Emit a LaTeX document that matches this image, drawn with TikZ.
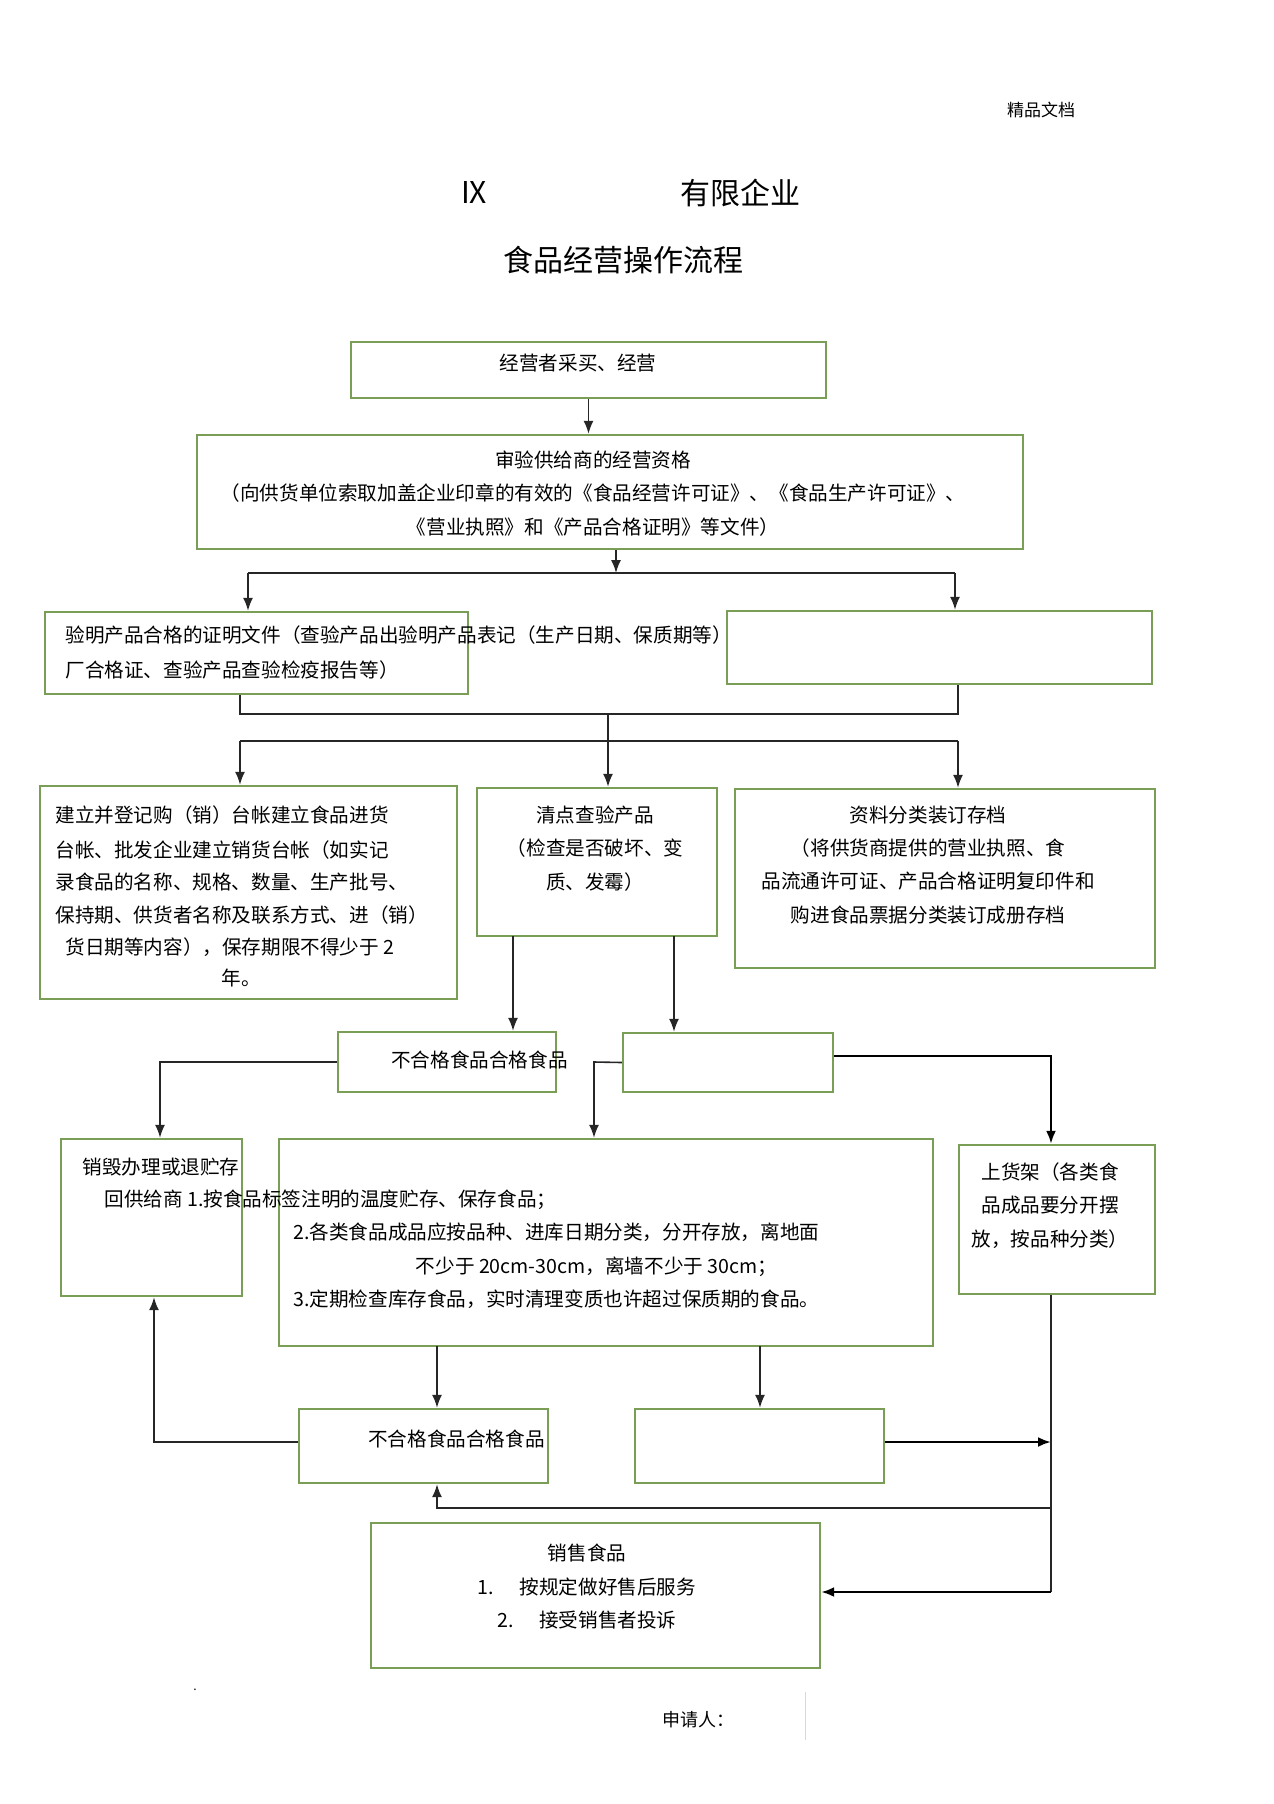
\documentclass[tikz,border=0pt]{standalone}
\usepackage{fontspec}
\setmainfont{Noto Sans CJK SC}
\usetikzlibrary{arrows.meta}
\definecolor{boxgreen}{RGB}{122,158,86}

\begin{document}
\begin{tikzpicture}[x=0.5pt,y=-0.5pt]
\tikzstyle{mybox}=[draw=boxgreen,line width=1.2pt,inner sep=0pt]
\tikzstyle{mytext}=[inner sep=0pt,font=\fontsize{9.8}{16.6}\selectfont]
\tikzstyle{mytitle}=[inner sep=0pt,font=\fontsize{15}{18}\selectfont]
\tikzstyle{myline}=[line width=0.8pt,black!85]
\tikzstyle{myarrow}=[myline,-{Latex[length=6.5pt,width=5pt]}]

\useasboundingbox (0,0) rectangle (1274,1804);

\node[inner sep=0pt,font=\fontsize{8.5}{10}\selectfont] (mark) at (1041,110) {精品文档};
\node[mytitle] (ix) at (474,193) {IX};
\node[mytitle] (firm) at (740,193) {有限企业};
\node[mytitle] (title) at (623,260) {食品经营操作流程};

\node[mybox,minimum width=237.5pt,minimum height=28pt] (b1) at (588.5,370) {};
\node[mybox,minimum width=413pt,minimum height=57pt] (b2) at (610,492) {};
\node[mybox,minimum width=211.5pt,minimum height=41pt] (b3) at (256.5,653) {};
\node[mybox,minimum width=212.5pt,minimum height=36.5pt] (b4) at (939.5,647.5) {};
\node[mybox,minimum width=208.5pt,minimum height=106.5pt] (b5) at (248.5,892.5) {};
\node[mybox,minimum width=120pt,minimum height=74pt] (b6) at (597,862) {};
\node[mybox,minimum width=210pt,minimum height=89.5pt] (b7) at (945,878.5) {};
\node[mybox,minimum width=109pt,minimum height=30pt] (b8) at (447,1062) {};
\node[mybox,minimum width=105pt,minimum height=29.5pt] (b9) at (728,1062.5) {};
\node[mybox,minimum width=90.5pt,minimum height=78.5pt] (b10) at (151.5,1217.5) {};
\node[mybox,minimum width=327pt,minimum height=103.5pt] (b11) at (606,1242.5) {};
\node[mybox,minimum width=98pt,minimum height=74.5pt] (b12) at (1057,1219.5) {};
\node[mybox,minimum width=124.5pt,minimum height=37pt] (b13) at (423.5,1446) {};
\node[mybox,minimum width=124.5pt,minimum height=37pt] (b14) at (759.5,1446) {};
\node[mybox,minimum width=224.5pt,minimum height=72.5pt] (b15) at (595.5,1595.5) {};

\node[mytext] (t1) at (578,363) {经营者采买、经营};
\node[mytext,align=center] (t2) at (593,493.5) {审验供给商的经营资格\\（向供货单位索取加盖企业印章的有效的《食品经营许可证》、《食品生产许可证》、\\《营业执照》和《产品合格证明》等文件）};
\node[mytext,anchor=west] (t3a) at (65,635) {验明产品合格的证明文件（查验产品出验明产品表记（生产日期、保质期等）};
\node[mytext,anchor=west] (t3b) at (65,670) {厂合格证、查验产品查验检疫报告等）};
\node[mytext,anchor=west] (t5a) at (55,815) {建立并登记购（销）台帐建立食品进货};
\node[mytext,anchor=west] (t5b) at (55,850) {台帐、批发企业建立销货台帐（如实记};
\node[mytext,anchor=west] (t5c) at (55,882) {录食品的名称、规格、数量、生产批号、};
\node[mytext,anchor=west] (t5d) at (55,915) {保持期、供货者名称及联系方式、进（销）};
\node[mytext,anchor=west] (t5e) at (65,947) {货日期等内容），保存期限不得少于 2};
\node[mytext] (t5f) at (241,978) {年。};
\node[mytext,align=center] (t6) at (595,848.5) {清点查验产品\\（检查是否破坏、变\\质、发霉）};
\node[mytext,align=center] (t7) at (928,865) {资料分类装订存档\\（将供货商提供的营业执照、食\\品流通许可证、产品合格证明复印件和\\购进食品票据分类装订成册存档};
\node[mytext] (t8) at (479.5,1060) {不合格食品合格食品};
\node[mytext] (t10) at (161,1167) {销毁办理或退贮存};
\node[mytext,anchor=west] (t11a) at (104,1200) {回供给商 1.按食品标签注明的温度贮存、保存食品；};
\node[mytext,anchor=west] (t11b) at (293,1232) {2.各类食品成品应按品种、进库日期分类，分开存放，离地面};
\node[mytext] (t11c) at (596.5,1267) {不少于 20cm-30cm，离墙不少于 30cm；};
\node[mytext,anchor=west] (t11d) at (293,1299) {3.定期检查库存食品，实时清理变质也许超过保质期的食品。};
\node[mytext,align=center] (t12) at (1050,1205.5) {上货架（各类食\\品成品要分开摆\\放，按品种分类）};
\node[mytext] (t13) at (456.5,1439) {不合格食品合格食品};
\node[mytext,align=center] (t15) at (587,1586.5) {销售食品\\1.\hspace{1.3em}按规定做好售后服务\\2.\hspace{1.3em}接受销售者投诉};
\node[inner sep=0pt,font=\fontsize{9}{10}\selectfont] (sign) at (698,1720) {申请人：};
\node[inner sep=0pt,font=\fontsize{6}{7}\selectfont] (dot) at (195,1690) {.};

\coordinate (j1) at (616,573);
\coordinate (j1l) at (248,573);
\coordinate (j1r) at (955,573);
\coordinate (j2) at (608,714);
\coordinate (j2l) at (240,714);
\coordinate (j2r) at (958,714);
\coordinate (j3l) at (240,741);
\coordinate (j3r) at (958,741);
\coordinate (d1) at (513,936);
\coordinate (d2) at (674,936);
\coordinate (k1) at (160,1062);
\coordinate (k2) at (594,1062);
\coordinate (k3) at (1051,1056);
\coordinate (d3) at (437,1346);
\coordinate (d4) at (760,1346);
\coordinate (k4) at (154,1442);
\coordinate (k5) at (1051,1442);
\coordinate (k6) at (1051,1592);
\coordinate (k7) at (1051,1508);
\coordinate (k8) at (437,1508);

\draw [myarrow] (b1.south) -- (b1.south |- b2.north);
\draw [myarrow] (b2.south -| j1) -- (j1);
\draw [myline] (j1l) -- (j1r);
\draw [myarrow] (j1l) -- (j1l |- b3.north);
\draw [myarrow] (j1r) -- (j1r |- b4.north);

\draw [myline] (b3.south -| j2l) -- (j2l) -- (j2r) -- (b4.south -| j2r);
\draw [myarrow] (j2) -- (j2 |- b6.north);
\draw [myline] (j3l) -- (j3r);
\draw [myarrow] (j3l) -- (j3l |- b5.north);
\draw [myarrow] (j3r) -- (j3r |- b7.north);

\draw [myarrow] (d1) -- (d1 |- b8.north);
\draw [myarrow] (d2) -- (d2 |- b9.north);
\draw [myarrow] (b8.west) -- (k1) -- (k1 |- b10.north);
\draw [myarrow] (b9.west) -- (k2) -- (k2 |- b11.north);
\draw [myarrow,line width=1.2pt,black] (b9.east |- k3) -- (k3) -- (k3 |- b12.north);

\draw [myarrow] (d3) -- (d3 |- b13.north);
\draw [myarrow] (d4) -- (d4 |- b14.north);
\draw [myarrow] (b13.west |- k4) -- (k4) -- (k4 |- b10.south);
\draw [myarrow,line width=1.2pt,black] (b14.east |- k5) -- (k5);
\draw [myline] (k3 |- b12.south) -- (k6);
\draw [myarrow] (k7) -- (k8) -- (b13.south -| k8);
\draw [myarrow,line width=1.2pt,black] (k6) -- (k6 -| b15.east);

\draw [black!15,line width=0.5pt] (805,1692) -- (805,1740);
\end{tikzpicture}
\end{document}
